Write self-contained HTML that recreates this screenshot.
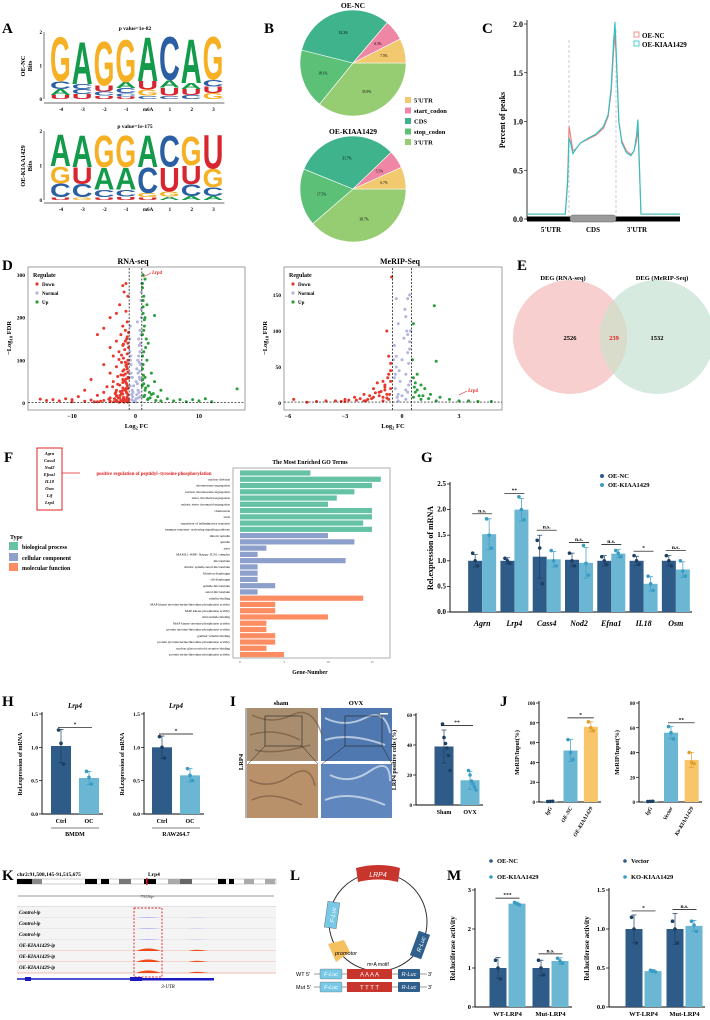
<!DOCTYPE html>
<html><head><meta charset="utf-8"><style>
html,body{margin:0;padding:0;background:#fff}
svg{display:block;font-family:"Liberation Serif",serif}
.b{font-weight:bold}
</style></head><body>
<svg id="fig" xmlns="http://www.w3.org/2000/svg" width="710" height="1020" viewBox="0 0 710 1020">
<rect width="710" height="1020" fill="#fff"/>
<g class="b" font-size="15" fill="#000">
<text x="2" y="33">A</text>
<text x="264" y="33">B</text>
<text x="482" y="33">C</text>
<text x="2" y="270">D</text>
<text x="517" y="270">E</text>
<text x="4" y="462">F</text>
<text x="421" y="462">G</text>
<text x="2" y="706">H</text>
<text x="230" y="706">I</text>
<text x="500" y="706">J</text>
<text x="2" y="880">K</text>
<text x="290" y="880">L</text>
<text x="447" y="880">M</text>
</g>
<g font-size="5.5" class="b">
<text x="135" y="30" text-anchor="middle">p value=1e-82</text>
<text x="135" y="128" text-anchor="middle">p value=1e-175</text>
<text transform="translate(25,66) rotate(-90)" text-anchor="middle" font-size="6.5">OE-NC</text>
<text transform="translate(32,66) rotate(-90)" text-anchor="middle" font-size="6.5">Bits</text>
<text transform="translate(25,166) rotate(-90)" text-anchor="middle" font-size="6.5">OE-KIAA1429</text>
<text transform="translate(32,166) rotate(-90)" text-anchor="middle" font-size="6.5">Bits</text>
</g>
<g id="logoNC"></g>
<g id="logoKI"></g>
<g class="b">
<text x="353" y="8" text-anchor="middle" font-size="7.5">OE-NC</text>
<text x="353" y="134" text-anchor="middle" font-size="7.5">OE-KIAA1429</text>
</g>
<g id="pieNC"></g>
<g id="pieKI"></g>
<g id="pieLegend" font-size="6.5" class="b"></g>
<g id="panelC" class="b" font-size="8">
<text transform="translate(505,120) rotate(-90)" text-anchor="middle" font-size="8">Percent of peaks</text>
</g>
<g class="b">
<text x="133" y="264" text-anchor="middle" font-size="8">RNA-seq</text>
<text x="400" y="264" text-anchor="middle" font-size="8">MeRIP-Seq</text>
</g>
<g id="volRNA"></g>
<g id="volMe"></g>
<g>
<circle cx="570" cy="337" r="57" fill="#f7cfcf"/>
<circle cx="657" cy="337" r="57" fill="#cfe6da" fill-opacity="0.85"/>
<path d="M613.5,300 A57,57 0 0 1 613.5,374 A57,57 0 0 1 613.5,300Z" fill="#d9dccb"/>
<g class="b" font-size="6.5" text-anchor="middle">
<text x="563" y="280">DEG (RNA-seq)</text>
<text x="662" y="280">DEG (MeRIP-Seq)</text>
<text x="570" y="340">2526</text>
<text x="614" y="340" fill="#e02020">239</text>
<text x="657" y="340">1532</text>
</g></g>
<g>
<rect x="37" y="448" width="25" height="62" fill="none" stroke="#e02020" stroke-width="1"/>
<g font-size="4.5" font-style="italic" class="b" text-anchor="middle">
<text x="49.5" y="455">Agrn</text><text x="49.5" y="462">Cass4</text><text x="49.5" y="469">Nod2</text><text x="49.5" y="476">Efna1</text><text x="49.5" y="483">IL18</text><text x="49.5" y="490">Osm</text><text x="49.5" y="497">Lif</text><text x="49.5" y="504">Lrp4</text>
</g>
<line x1="62" y1="473" x2="80" y2="473" stroke="#e02020" stroke-width="0.8"/>
<text x="154" y="475" text-anchor="middle" font-size="4.8" fill="#e02020" class="b">positive regulation of peptidyl−tyrosine phosphorylation</text>
<text x="310" y="464" text-anchor="middle" font-size="5.8" class="b">The Most Enriched GO Terms</text>
<text x="310" y="674" text-anchor="middle" font-size="5.8" class="b">Gene-Number</text>
<text x="10" y="539" font-size="6" class="b">Type</text>
<g font-size="6" class="b">
<rect x="9" y="542" width="9" height="8" fill="#66c2a5"/><text x="22" y="549">biological process</text>
<rect x="9" y="553" width="9" height="8" fill="#8da0cb"/><text x="22" y="560">cellular component</text>
<rect x="9" y="563" width="9" height="8" fill="#fc8d62"/><text x="22" y="570">molecular function</text>
</g>
</g>
<g id="goChart"></g>
<g id="chartG"></g>
<g id="chartH1"></g>
<g id="chartH2"></g>
<g>
<text x="281" y="705" text-anchor="middle" font-size="6.5" class="b">sham</text>
<text x="356" y="705" text-anchor="middle" font-size="6.5" class="b">OVX</text>
<text transform="translate(243,762) rotate(-90)" text-anchor="middle" font-size="6.5" class="b">LRP4</text>
<line x1="246" y1="708" x2="246" y2="818" stroke="#000" stroke-width="0.6"/>
<rect x="247" y="708" width="71" height="53" fill="#a88d6e"/>
<rect x="247" y="764" width="71" height="54" fill="#b8906a"/>
<rect x="321" y="708" width="71" height="53" fill="#4f78b0"/>
<rect x="321" y="764" width="71" height="54" fill="#5f86bd"/>
<path d="M252,715 q20,10 40,0 t30,20 M250,735 q25,-8 50,5 M255,750 q20,5 55,-5 M250,780 q20,10 40,-4 t25,10 M252,800 q20,-10 50,5" stroke="#6e5238" stroke-width="1.5" fill="none" opacity="0.6"/>
<path d="M325,718 q20,10 40,0 t25,15 M325,740 q25,-8 60,5 M330,775 q20,10 40,-4 t20,10 M325,800 q25,-10 60,5" stroke="#dfe8f4" stroke-width="2" fill="none" opacity="0.7"/>
<rect x="265" y="716" width="37" height="30" fill="none" stroke="#222" stroke-width="0.6"/>
<rect x="345" y="716" width="37" height="30" fill="none" stroke="#222" stroke-width="0.6"/>
<path d="M265,746 L248,764 M302,746 L318,764 M345,746 L322,764 M382,746 L392,764" stroke="#222" stroke-width="0.5"/>
<rect x="380" y="713" width="8" height="1.5" fill="#fff"/>
</g>
<g id="chartI"></g>
<g id="chartJ1"></g>
<g id="chartJ2"></g>
<g id="panelK"></g>
<g id="panelL"></g>
<g id="chartM1"></g>
<g id="chartM2"></g>
</svg>
<script>
const logoPositions = ['-4','-3','-2','-1','m6A','1','2','3'];
const logoNCLetters = [['U','A','C','G'],['U','C','C','A'],['U','C','U','G'],['U','C','C','A','G'],['C','G','U','A'],['C','U','A','C'],['C','U','A','A'],['G','U','C','G']];
const logoNCBits = [[0.12,0.18,0.24,1.36],[0.15,0.15,0.15,1.3],[0.1,0.12,0.18,1.36],[0.08,0.1,0.15,0.18,1.3],[0.1,0.18,0.26,1.36],[0.1,0.24,0.22,1.34],[0.12,0.18,0.18,1.36],[0.18,0.2,0.2,1.32]];
const logoKILetters = [['U','C','G','A'],['G','C','U','A'],['U','C','A','G'],['U','C','A','G'],['U','G','C','A'],['A','G','U','C'],['A','C','U','G'],['A','C','G','U']];
const logoKIBits = [[0.08,0.4,0.5,0.95],[0.08,0.38,0.5,0.95],[0.08,0.22,0.65,0.95],[0.1,0.2,0.65,0.95],[0.08,0.12,0.75,0.95],[0.1,0.15,0.72,0.92],[0.12,0.35,0.55,0.85],[0.12,0.25,0.55,1.0]];

const pieCats = ["3'UTR","stop_codon","CDS","start_codon","5'UTR"];
const pieNCvals = [35.9,18.1,32.3,6.3,7.5];
const pieKIvals = [38.7,17.5,31.7,5.5,6.7];
const legendCats = ["5'UTR","start_codon","CDS","stop_codon","3'UTR"];

const cPos = [0,25,26.5,27.5,28.5,30,32,35,40,45,50,53,55,56.5,57.5,58.5,60,62,65,68,70,71.5,72.5,73.5,74.5,76,100];
const cNC  = [0.05,0.05,0.4,0.95,0.85,0.7,0.72,0.78,0.82,0.86,0.93,1.05,1.3,1.7,1.9,1.6,1.0,0.8,0.7,0.66,0.7,0.8,0.92,0.5,0.05,0.05,0.05];
const cKI  = [0.05,0.05,0.35,0.83,0.78,0.67,0.72,0.78,0.83,0.87,0.95,1.07,1.35,1.8,2.02,1.65,1.0,0.78,0.68,0.65,0.7,0.85,1.02,0.55,0.05,0.05,0.05];
const cTicks = [0,0.5,1.0,1.5,2.0];

const rnaDownX = [-1.5,-2,-1.8,-1.2,-2.5,-3,-1.5,-4,-1.3,-2,-5,-1.6,-6,-2.3,-1.4,-3,-1.2,-2,-4,-1.7,-2.6,-1.3,-3.5,-1.9,-1.2,-2.2,-5,-1.5,-3,-1.3,-2,-4,-1.6,-2.8,-1.2,-7,-2,-3.5,-1.5,-2.5,-1.3,-4.5,-2,-8,-3,-1.5,-5,-2.2,-1.2,-6,-3,-9,-4,-1.8,-11,-13,-15,-10,-7,-5,-3,-2,-12,-14,-8,-6,-4,-1.5,-2.5,-10,-1.4,-1.9,-2.4,-1.1,-1.6,-2.1,-3.2,-1.3,-1.7,-2.7,-1.2,-1.5,
 -1.1,-1.3,-1.6,-1.9,-2.2,-2.6,-1.2,-1.4,-1.8,-2.3,-1.1,-1.5,-2.0,-2.8,-3.6,-1.2,-1.7,-2.4,-3.1,-1.4,-2.0,-2.9,-1.3,-1.9,-2.5,-3.3,-4.2,-1.1,-1.6,-2.2,-3.0,-4.0,-5.5,-1.3,-2.1,-3.4,-6.5,-1.2,-1.8,-2.6];
const rnaDownY = [280,275,260,250,230,210,215,200,190,180,175,170,160,160,150,145,140,135,130,125,120,115,110,105,100,95,90,88,85,80,75,70,68,62,60,55,55,50,48,42,40,38,35,30,30,28,25,22,20,18,16,15,12,12,10,8,9,8,7,6,5,8,5,6,4,3,3,5,3,3,45,65,18,130,95,28,22,10,52,12,72,34,
 165,155,145,138,112,102,92,85,78,66,58,56,48,44,38,34,31,27,25,24,21,17,14,13,11,10,9,7,7,6,6,5,4,4,4,3,3,2,2,2];
const rnaNormX = [-0.8,-0.5,0.3,0.5,0.7,0.2,-0.3,0.6,0.4,-0.6,0.1,-0.2,0.8,0.5,0.9,-0.9,0,0.3,-0.4,0.7,-0.7,0.85,0.6,-0.85,0.75,-0.6,0.45,-0.3,0.2,0.9,
 -0.9,-0.7,-0.5,0.1,0.4,0.6,0.8,-0.8,0.7,0.9,-0.95,0.55,-0.45,0.35,0.65,0.85,-0.75,0.95];
const rnaNormY = [100,60,190,150,120,80,40,60,30,20,10,5,90,110,200,150,3,45,25,170,70,240,135,40,15,8,12,3,20,260,
 120,90,30,50,70,95,140,180,55,220,60,25,15,100,75,160,110,280];
const rnaUpX = [1.2,1.5,1.1,1.3,1.8,1.2,1.5,3,1.4,1.1,2,1.3,1.8,1.2,2.5,1.5,3,1.3,2,4,1.5,2.5,3.5,5,1.3,7,9,11,10,12,16,2,6,8,4,1.1,1.6,1.2,2.2,
 1.1,1.2,1.4,1.3,1.7,1.1,1.25,1.6,2.3,1.15,1.45,2.8,1.05,1.9,3.2];
const rnaUpY = [300,290,270,250,230,210,200,205,180,160,140,120,100,90,70,60,50,45,40,30,30,20,15,10,15,8,8,10,5,3,33,10,5,3,5,80,130,240,25,
 280,225,195,170,150,110,65,35,12,55,18,22,40,8,6];
const meDownX = [-0.8,-0.6,-0.7,-1,-0.9,-1.5,-0.6,-1.2,-2,-0.8,-2.5,-1.5,-3,-4,-0.7,-3.5,-2,-1,-5.7,-4.5,-1.8,-0.55,-1.2,-0.6,-2.2,-3,-5,-0.9,-1.3,-0.7,
 -0.6,-0.75,-0.9,-1.1,-1.4,-1.7,-2.4,-2.8,-0.65,-1.0,-1.6,-3.2,-0.8,-1.9];
const meDownY = [100,55,40,30,25,20,20,15,12,12,8,8,5,3,5,3,3,3,5,2,5,175,10,30,6,2,1,18,28,65,
 45,35,22,16,14,10,4,4,12,8,6,2,7,3];
const meNormX = [-0.3,0.3,0.2,-0.2,0.1,0.4,-0.4,0.3,0,-0.3,0.2,-0.1,0.35,-0.35,0,0.2,-0.2,0.45,-0.45,0.4,0.25,-0.4,0.3,-0.25,0.15,
 -0.15,0.35,-0.3,0.4,0.3,-0.35,0.45,0.2,-0.2];
const meNormY = [145,145,120,110,90,85,80,70,60,50,40,30,25,20,10,5,3,100,60,150,100,35,15,8,130,
 45,55,65,75,95,40,30,18,12];
const meUpX = [0.6,1.7,1.8,0.8,0.6,1,1.2,0.7,1.5,2,0.6,2.5,3,3.5,4,4.7,1,1.8,0.9,0.55,0.65,0.7,0.8,1.1,1.4];
const meUpY = [110,135,58,40,35,25,20,15,12,8,8,5,3,3,2,2,5,3,10,60,22,28,18,10,6];

const goTerms = ["positive regulation of peptidyl−tyrosine phosphorylation","nuclear division","chromosome segregation","nuclear chromosome segregation","sister chromatid segregation","mitotic sister chromatid segregation","chemotaxis","taxis","regulation of inflammatory response","immune response−activating signaling pathway","mitotic spindle","spindle","aster","MAML1−RBP−Jkappa−ICN1 complex","microtubule","mitotic spindle astral microtubule","filtration diaphragm","slit diaphragm","spindle microtubule","astral microtubule","tubulin binding","MAP kinase tyrosine/serine/threonine phosphatase activity","MAP kinase phosphatase activity","microtubule binding","MAP kinase tyrosine phosphatase activity","protein tyrosine/threonine phosphatase activity","gamma−tubulin binding","protein tyrosine/serine/threonine phosphatase activity","nuclear glucocorticoid receptor binding","protein serine/threonine phosphatase activity"];
const goCounts = [8,16,15,13,11,10,15,15,14,15,10,13,3,2,12,2,2,2,4,2,14,4,4,10,3,3,4,4,3,5];
const goTypes = ['BP','BP','BP','BP','BP','BP','BP','BP','BP','BP','CC','CC','CC','CC','CC','CC','CC','CC','CC','CC','MF','MF','MF','MF','MF','MF','MF','MF','MF','MF'];
const goTicks = [0,5,10,15];

const gGenes = ['Agrn','Lrp4','Cass4','Nod2','Efna1','IL18','Osm'];
const gNC = [1.0,1.0,1.08,1.02,1.0,1.0,1.0];
const gNCsd = [0.12,0.06,0.42,0.13,0.1,0.09,0.1];
const gNCreps = [[1.15,1.0,0.9],[1.05,1.0,0.95],[1.4,1.25,0.55],[1.15,1.0,0.9],[1.08,1.0,0.93],[1.1,1.0,0.93],[1.1,1.0,0.9]];
const gKI = [1.52,2.0,1.03,0.96,1.14,0.55,0.83];
const gKIsd = [0.3,0.22,0.15,0.3,0.08,0.14,0.15];
const gKIreps = [[1.82,1.5,1.25],[2.25,2.0,1.8],[1.2,1.0,0.9],[1.3,0.95,0.72],[1.2,1.15,1.08],[0.7,0.55,0.42],[1.0,0.8,0.7]];
const gSig = ['n.s.','**','n.s.','n.s.','n.s.','*','n.s.'];
const gTicks = [0,0.5,1.0,1.5,2.0,2.5];

const hCats = ['Ctrl','OC'];
const h1Vals = [1.02,0.54]; const h1Sd=[0.25,0.1]; const h1Reps=[[1.26,1.06,0.75],[0.64,0.55,0.45]];
const h2Vals = [1.0,0.58]; const h2Sd=[0.17,0.1]; const h2Reps=[[1.16,1.0,0.84],[0.68,0.58,0.5]];
const hTicks = [0,0.5,1.0,1.5];
const iCats = ['Sham','OVX']; const iVals=[39,16.5]; const iSd=[11,6]; const iReps=[[54,45,41,38,33,23],[23,20,16,14,12,10]];
const iTicks=[0,20,40,60];
const j1Cats=['IgG','OE-NC','OE-KIAA1429']; const j1Vals=[0.6,52,76]; const j1Sd=[0.3,11,5]; const j1Reps=[[0.5,0.6,0.7],[63,50,43],[81,75,72]];
const j1Ticks=[0,20,40,60,80,100];
const j2Cats=['IgG','Vector','Ko-KIAA1429']; const j2Vals=[0.5,56,34]; const j2Sd=[0.3,5,6]; const j2Reps=[[0.4,0.5,0.6],[61,56,51],[40,32,31]];
const j2Ticks=[0,20,40,60,80];
const mCats=['WT-LRP4','Mut-LRP4'];
const m1A=[1.0,1.0]; const m1Asd=[0.27,0.2]; const m1Areps=[[1.2,1.0,0.72],[1.2,1.0,0.82]];
const m1B=[2.65,1.18]; const m1Bsd=[0.04,0.08]; const m1Breps=[[2.68,2.65,2.62],[1.25,1.18,1.12]];
const m1Sig=['***','n.s.']; const m1Ticks=[0,1,2,3];
const m2A=[1.0,1.0]; const m2Asd=[0.18,0.2]; const m2Areps=[[1.15,1.0,0.82],[1.1,1.0,0.82]];
const m2B=[0.46,1.04]; const m2Bsd=[0.02,0.07]; const m2Breps=[[0.47,0.46,0.45],[1.1,1.05,0.97]];
const m2Sig=['*','n.s.']; const m2Ticks=[0,0.5,1.0,1.5];

const NS='http://www.w3.org/2000/svg';
function mk(tag, attrs, parent){const e=document.createElementNS(NS,tag);for(const k in attrs)e.setAttribute(k,attrs[k]);parent.appendChild(e);return e;}
function tx(str, attrs, parent){const e=mk('text',attrs,parent);e.textContent=str;return e;}
const G=id=>document.getElementById(id);
const DARK='#2e5b88', LIGHT='#6bb7d3', ORANGE='#f8c56a';

const letterColor={A:'#139a4a',C:'#2b5fa3',G:'#f5b024',U:'#d7262f'};
const letterAdv={A:72,C:72,G:78,U:72};
function drawLogo(g, letters, bits, x0, step, y0, pxPerBit, axisY){
  mk('line',{x1:x0-6,y1:y0-2*pxPerBit,x2:x0-6,y2:y0,stroke:'#555','stroke-width':0.8},g);
  ['0','1','2'].forEach((t,i)=>{tx(t,{x:x0-8,y:y0-i*pxPerBit+2,'font-size':5,'text-anchor':'end','font-weight':'bold'},g);});
  mk('line',{x1:x0-6,y1:axisY,x2:x0+step*8,y2:axisY,stroke:'#888','stroke-width':1.2},g);
  letters.forEach((col,i)=>{
    let yb=y0;
    const cx=x0+step*i;
    col.forEach((L,j)=>{
      const h=bits[i][j]*pxPerBit;
      const t=tx(L,{x:0,y:0,'font-size':100,'font-family':'Liberation Sans, sans-serif','font-weight':'bold',fill:letterColor[L],transform:`translate(${cx},${yb}) scale(${(step-1)/letterAdv[L]},${h/72})`},g);
      
      
      yb-=h;
    });
    tx(logoPositions[i],{x:cx+step/2,y:axisY+8,'font-size':5,'text-anchor':'middle','font-weight':'bold'},g);
  });
}
drawLogo(G('logoNC'),logoNCLetters,logoNCBits,50,21.8,99,33.5,103);
drawLogo(G('logoKI'),logoKILetters,logoKIBits,50,21.8,200,34.5,203);

const pieColors={"5'UTR":'#f2c96e',"start_codon":'#ef86a6',"CDS":'#3fb38b',"stop_codon":'#5cc177',"3'UTR":'#96cc72'};
function drawPie(g, vals, cx, cy, r){
  const tot=vals.reduce((a,b)=>a+b,0); let a=0;
  vals.forEach((v,i)=>{
    const a1=a+v/tot*2*Math.PI;
    const p=`M${cx},${cy} L${cx+r*Math.cos(a)},${cy+r*Math.sin(a)} A${r},${r} 0 ${a1-a>Math.PI?1:0} 1 ${cx+r*Math.cos(a1)},${cy+r*Math.sin(a1)} Z`;
    const s=mk('path',{d:p,fill:pieColors[pieCats[i]],stroke:'#fff','stroke-width':0.6},g);
    
    
    const m=(a+a1)/2, lr=r*0.6;
    tx(v.toFixed(1)+'%',{x:cx+lr*Math.cos(m),y:cy+lr*Math.sin(m)+1.5,'font-size':3.6,'text-anchor':'middle'},g);
    a=a1;
  });
}
drawPie(G('pieNC'),pieNCvals,353,63,53);
drawPie(G('pieKI'),pieKIvals,353,189,53);
legendCats.forEach((c,i)=>{
  const y=97+i*10.5;
  const r=mk('rect',{x:405,y:y,width:6,height:6,fill:pieColors[c]},G('pieLegend'));
  
  
  tx(c,{x:414,y:y+5.5},G('pieLegend'));
});

(function(){
  const g=G('panelC');
  const X=p=>527+p/100*153, Y=v=>219-v*97.5;
  mk('line',{x1:527,y1:20,x2:527,y2:220,stroke:'#000','stroke-width':0.8},g);
  cTicks.forEach(t=>{tx(t.toFixed(1),{x:523,y:Y(t)+3,'text-anchor':'end','font-size':8},g);mk('line',{x1:524,y1:Y(t),x2:527,y2:Y(t),stroke:'#000','stroke-width':0.6},g);});
  mk('rect',{x:527,y:216.5,width:153,height:5,fill:'#000'},g);
  mk('line',{x1:569,y1:40,x2:569,y2:216,stroke:'#aaa','stroke-dasharray':'3,2','stroke-width':0.6},g);
  mk('line',{x1:616,y1:30,x2:616,y2:216,stroke:'#aaa','stroke-dasharray':'3,2','stroke-width':0.6},g);
  const ncL=mk('polyline',{points:cPos.map((p,i)=>X(p)+','+Y(cNC[i])).join(' '),fill:'none',stroke:'#f07b72','stroke-width':1.1},g);
  
  
  const kiL=mk('polyline',{points:cPos.map((p,i)=>X(p)+','+Y(cKI[i])).join(' '),fill:'none',stroke:'#27c3c6','stroke-width':1.1},g);
  
  
  mk('rect',{x:570,y:215,width:46,height:7,rx:3,fill:'#9a9a9a',stroke:'#666','stroke-width':0.5},g);
  tx("5'UTR",{x:551,y:232,'text-anchor':'middle','font-size':7},g);
  tx('CDS',{x:593,y:232,'text-anchor':'middle','font-size':7},g);
  tx("3'UTR",{x:637,y:232,'text-anchor':'middle','font-size':7},g);
  mk('rect',{x:634,y:32,width:5,height:5,fill:'none',stroke:'#f07b72','stroke-width':0.8},g);
  tx('OE-NC',{x:642,y:38,'font-size':7},g);
  mk('rect',{x:634,y:41,width:5,height:5,fill:'none',stroke:'#27c3c6','stroke-width':0.8},g);
  tx('OE-KIAA1429',{x:642,y:47,'font-size':7},g);
})();

function volcano(g, o){
  const X=v=>o.zx+v*o.sx, Y=v=>o.zy-v*o.sy;
  mk('rect',{x:o.x0,y:267,width:o.x1-o.x0,height:143,fill:'none',stroke:'#888','stroke-width':0.8},g);
  const sets=[[o.nx,o.ny,'#b3b3e0'],[o.dx,o.dy,'#e8382d'],[o.ux,o.uy,'#2a9d3c']];
  sets.forEach(s=>s[0].forEach((v,i)=>{
    const c=mk('circle',{cx:X(v),cy:Y(s[1][i]),r:1.5,fill:s[2]},g);
    
    
  }));
  mk('line',{x1:X(-o.cut),y1:268,x2:X(-o.cut),y2:410,stroke:'#000','stroke-dasharray':'2,1.5','stroke-width':0.7},g);
  mk('line',{x1:X(o.cut),y1:268,x2:X(o.cut),y2:410,stroke:'#000','stroke-dasharray':'2,1.5','stroke-width':0.7},g);
  mk('line',{x1:o.x0,y1:Y(1.3),x2:o.x1,y2:Y(1.3),stroke:'#000','stroke-dasharray':'2,1.5','stroke-width':0.7},g);
  o.xt.forEach(t=>{tx(String(t).replace('-','−'),{x:X(t),y:418,'font-size':6,'text-anchor':'middle','font-weight':'bold'},g);});
  o.yt.forEach(t=>{tx(String(t),{x:o.x0-3,y:Y(t)+2,'font-size':5.5,'text-anchor':'end','font-weight':'bold'},g);});
  const xl=tx('',{x:(o.x0+o.x1)/2,y:428,'font-size':6.5,'text-anchor':'middle','font-weight':'bold'},g);
  xl.innerHTML='Log<tspan font-size="4.5" dy="1.5">2</tspan><tspan dy="-1.5"> FC</tspan>';
  const yl=tx('',{transform:`translate(${o.x0-17},338) rotate(-90)`,'font-size':6.5,'text-anchor':'middle','font-weight':'bold'},g);
  yl.innerHTML='−Log<tspan font-size="4.5" dy="1.5">10</tspan><tspan dy="-1.5"> FDR</tspan>';
  tx('Regulate',{x:o.x0+5,y:277,'font-size':6,'font-weight':'bold'},g);
  [['Down','#e8382d'],['Normal','#b3b3e0'],['Up','#2a9d3c']].forEach((d,i)=>{
    mk('circle',{cx:o.x0+9,cy:284+i*9,r:1.6,fill:d[1]},g);
    tx(d[0],{x:o.x0+14,y:286+i*9,'font-size':5,'font-weight':'bold'},g);
  });
  tx('Lrp4',{x:o.lx,y:o.ly,'font-size':5,fill:'#e02020','font-style':'italic','font-weight':'bold'},g);
  mk('line',{x1:o.lx-1,y1:o.ly-1,x2:o.lx-9,y2:o.ly+3,stroke:'#e02020','stroke-width':0.6},g);
}
volcano(G('volRNA'),{x0:28,x1:245,zx:135.5,sx:6.35,zy:403,sy:0.427,cut:1,dx:rnaDownX,dy:rnaDownY,nx:rnaNormX,ny:rnaNormY,ux:rnaUpX,uy:rnaUpY,xt:[-10,0,10],yt:[0,100,200,300],lx:152,ly:274});
volcano(G('volMe'),{x0:284,x1:502,zx:402,sx:19,zy:403,sy:0.72,cut:0.5,dx:meDownX,dy:meDownY,nx:meNormX,ny:meNormY,ux:meUpX,uy:meUpY,xt:[-6,-3,0,3],yt:[0,50,100,150],lx:468,ly:392});

(function(){
  const g=G('goChart'); const col={BP:'#66c2a5',CC:'#8da0cb',MF:'#fc8d62'};
  const X=v=>240+v*8.8, Y=i=>473+i*6.26;
  mk('rect',{x:233,y:468,width:157,height:190,fill:'none',stroke:'#999','stroke-width':0.8},g);
  goCounts.forEach((v,i)=>{
    const b=mk('rect',{x:X(0),y:Y(i)-2.6,width:X(v)-X(0),height:5.2,fill:col[goTypes[i]]},g);
    
    
    if(i>0) tx(goTerms[i],{x:230,y:Y(i)+1.2,'font-size':3.4,'text-anchor':'end'},g);
  });
  goTicks.forEach(t=>{tx(String(t),{x:X(t),y:663,'font-size':3.5,'text-anchor':'middle',fill:'#666'},g);});
})();

function yAxis(g, x, y0, yTop, max, ticks, fmt, fs){
  mk('line',{x1:x,y1:yTop-2,x2:x,y2:y0,stroke:'#000','stroke-width':0.9},g);
  ticks.forEach(t=>{const y=y0-t/max*(y0-yTop);mk('line',{x1:x-3,y1:y,x2:x,y2:y,stroke:'#000','stroke-width':0.7},g);tx(fmt(t),{x:x-4,y:y+2,'font-size':fs,'text-anchor':'end','font-weight':'bold'},g);});
}
function barWithErr(g, cx, w, mean, sd, reps, Y, color, dotColor, name){
  const b=mk('rect',{x:cx-w/2,y:Y(mean),width:w,height:Y(0)-Y(mean),fill:color},g);
  
  
  mk('line',{x1:cx,y1:Y(mean+sd),x2:cx,y2:Y(Math.max(0,mean-sd)),stroke:dotColor,'stroke-width':0.7},g);
  mk('line',{x1:cx-2.5,y1:Y(mean+sd),x2:cx+2.5,y2:Y(mean+sd),stroke:dotColor,'stroke-width':0.7},g);
  mk('line',{x1:cx-2.5,y1:Y(Math.max(0,mean-sd)),x2:cx+2.5,y2:Y(Math.max(0,mean-sd)),stroke:dotColor,'stroke-width':0.7},g);
  reps.forEach((r,k)=>{const d=mk('circle',{cx:cx+(k-1)*2.5*(reps.length>3?0.6:1),cy:Y(r),r:1.8,fill:dotColor},g);});
}
function sig(g, x1, x2, y, s){
  mk('line',{x1:x1,y1:y,x2:x2,y2:y,stroke:'#000','stroke-width':0.7},g);
  tx(s,{x:(x1+x2)/2,y:y-1.5,'font-size':5.5,'text-anchor':'middle','font-weight':'bold'},g);
}
function simpleBars(g,o){
  const n=o.cats.length, step=(o.x1-o.x0)/n, Y=v=>o.y0-v/o.max*(o.y0-o.yTop);
  yAxis(g,o.ax,o.y0,o.yTop,o.max,o.ticks,o.fmt,o.fs||5.5);
  mk('line',{x1:o.ax,y1:o.y0,x2:o.x1,y2:o.y0,stroke:'#000','stroke-width':0.9},g);
  o.cats.forEach((c,i)=>{
    const cx=o.x0+step*(i+0.5);
    barWithErr(g,cx,o.bw,o.vals[i],o.sd[i],o.reps[i],Y,o.colors[i],o.dots[i],'bar-'+c.toLowerCase());
    if(o.rot) tx(c,{transform:`translate(${cx+2},${o.y0+6}) rotate(-60)`,'font-size':5.5,'text-anchor':'end','font-weight':'bold','font-style':'italic'},g);
    else tx(c,{x:cx,y:o.y0+9,'font-size':6,'text-anchor':'middle','font-weight':'bold'},g);
  });
  if(o.sig){const a=o.x0+step*(o.sig[0]+0.5),b=o.x0+step*(o.sig[1]+0.5);sig(g,a-3,b+3,Y(o.sigY),o.sig[2]);}
  if(o.ylab) tx(o.ylab,{transform:`translate(${o.ax-20},${(o.y0+o.yTop)/2}) rotate(-90)`,'font-size':6,'text-anchor':'middle','font-weight':'bold'},g);
  if(o.title) tx(o.title,{x:(o.x0+o.x1)/2,y:o.yTop-6,'font-size':7,'text-anchor':'middle','font-weight':'bold','font-style':'italic'},g);
  if(o.group){mk('line',{x1:o.x0+4,y1:o.y0+14,x2:o.x1-4,y2:o.y0+14,stroke:'#000','stroke-width':0.6},g);tx(o.group,{x:(o.x0+o.x1)/2,y:o.y0+22,'font-size':6,'text-anchor':'middle','font-weight':'bold'},g);}
}
const f1=t=>t.toFixed(1), f0=t=>String(t);

(function(){
  const g=G('chartG'); const x0=466,x1=692,step=(x1-x0)/gGenes.length,y0=612,yTop=484,max=2.5;
  const Y=v=>y0-v/max*(y0-yTop);
  yAxis(g,450,y0,yTop,max,gTicks,f1,7);
  mk('line',{x1:450,y1:y0,x2:x1,y2:y0,stroke:'#000','stroke-width':0.9},g);
  gGenes.forEach((gn,i)=>{
    const c=x0+step*(i+0.5);
    barWithErr(g,c-7,14,gNC[i],gNCsd[i],gNCreps[i],Y,DARK,'#1d3f63','bar-oe-nc');
    barWithErr(g,c+7,14,gKI[i],gKIsd[i],gKIreps[i],Y,LIGHT,'#3a9cc4','bar-oe-kiaa1429');
    const top=Math.max(gNC[i]+gNCsd[i],gKI[i]+gKIsd[i]);
    sig(g,c-10,c+10,Y(top)-5,gSig[i]);
    tx(gn,{x:c,y:626,'font-size':8,'text-anchor':'middle','font-weight':'bold','font-style':'italic'},g);
  });
  tx('Rel.expression of mRNA',{transform:'translate(433,548) rotate(-90)','font-size':8,'text-anchor':'middle','font-weight':'bold'},g);
  mk('circle',{cx:602,cy:476,r:2,fill:DARK},g); tx('OE-NC',{x:608,y:478,'font-size':6.5,'font-weight':'bold'},g);
  mk('circle',{cx:602,cy:485,r:2,fill:'#3a9cc4'},g); tx('OE-KIAA1429',{x:608,y:487,'font-size':6.5,'font-weight':'bold'},g);
})();

simpleBars(G('chartH1'),{cats:hCats,vals:h1Vals,sd:h1Sd,reps:h1Reps,x0:47,x1:103,ax:42,y0:814,yTop:714,max:1.5,ticks:hTicks,fmt:f1,bw:20,colors:[DARK,LIGHT],dots:['#1d3f63','#3a9cc4'],sig:[0,1,'*'],sigY:1.3,ylab:'Rel.expression of mRNA',title:'Lrp4',group:'BMDM'});
simpleBars(G('chartH2'),{cats:hCats,vals:h2Vals,sd:h2Sd,reps:h2Reps,x0:148,x1:204,ax:144,y0:814,yTop:714,max:1.5,ticks:hTicks,fmt:f1,bw:20,colors:[DARK,LIGHT],dots:['#1d3f63','#3a9cc4'],sig:[0,1,'*'],sigY:1.2,ylab:'Rel.expression of mRNA',title:'Lrp4',group:'RAW264.7'});
simpleBars(G('chartI'),{cats:iCats,vals:iVals,sd:iSd,reps:iReps,x0:431,x1:483,ax:416,y0:805,yTop:715,max:60,ticks:iTicks,fmt:f0,fs:5,bw:19,colors:[DARK,LIGHT],dots:['#1d3f63','#3a9cc4'],sig:[0,1,'**'],sigY:53,ylab:'LRP4 positive cells (%)'});
simpleBars(G('chartJ1'),{cats:j1Cats,vals:j1Vals,sd:j1Sd,reps:j1Reps,x0:540,x1:601,ax:539,y0:802,yTop:703,max:100,ticks:j1Ticks,fmt:f0,fs:5,bw:14,colors:[LIGHT,LIGHT,ORANGE],dots:['#1d3f63','#3a9cc4','#e0a030'],sig:[1,2,'*'],sigY:85,ylab:'MeRIP/Input(%)',rot:true});
simpleBars(G('chartJ2'),{cats:j2Cats,vals:j2Vals,sd:j2Sd,reps:j2Reps,x0:640,x1:702,ax:639,y0:802,yTop:703,max:80,ticks:j2Ticks,fmt:f0,fs:5,bw:14,colors:[LIGHT,LIGHT,ORANGE],dots:['#1d3f63','#3a9cc4','#e0a030'],sig:[1,2,'**'],sigY:64,ylab:'MeRIP/Input(%)',rot:true});

function groupedM(g, o){
  const n=mCats.length, step=(o.x1-o.x0)/n, Y=v=>o.y0-v/o.max*(o.y0-o.yTop);
  yAxis(g,o.ax,o.y0,o.yTop,o.max,o.ticks,o.fmt,6.5);
  mk('line',{x1:o.ax,y1:o.y0,x2:o.x1,y2:o.y0,stroke:'#000','stroke-width':0.9},g);
  mCats.forEach((c,i)=>{
    const cx=o.x0+step*(i+0.5);
    barWithErr(g,cx-9.5,17,o.a[i],o.asd[i],o.areps[i],Y,DARK,'#1d3f63','bar-control');
    barWithErr(g,cx+9.5,17,o.b[i],o.bsd[i],o.breps[i],Y,LIGHT,'#3a9cc4','bar-treatment');
    const top=Math.max(o.a[i]+o.asd[i],o.b[i]+o.bsd[i]);
    sig(g,cx-12,cx+12,Y(top)-4,o.sig[i]);
    tx(c,{x:cx,y:o.y0+9,'font-size':6.5,'text-anchor':'middle','font-weight':'bold'},g);
  });
  tx('Rel.luciferase activity',{transform:`translate(${o.ax-20},${(o.y0+o.yTop)/2}) rotate(-90)`,'font-size':7,'text-anchor':'middle','font-weight':'bold'},g);
  mk('circle',{cx:o.ax+16,cy:861,r:1.8,fill:DARK},g); tx(o.l1,{x:o.ax+22,y:863,'font-size':6.5,'font-weight':'bold'},g);
  mk('circle',{cx:o.ax+16,cy:877,r:1.8,fill:'#3a9cc4'},g); tx(o.l2,{x:o.ax+22,y:879,'font-size':6.5,'font-weight':'bold'},g);
}
groupedM(G('chartM1'),{x0:486,x1:572,ax:475,y0:1007,yTop:890,max:3,ticks:m1Ticks,fmt:f0,a:m1A,asd:m1Asd,areps:m1Areps,b:m1B,bsd:m1Bsd,breps:m1Breps,sig:m1Sig,l1:'OE-NC',l2:'OE-KIAA1429'});
groupedM(G('chartM2'),{x0:623,x1:705,ax:609,y0:1007,yTop:890,max:1.5,ticks:m2Ticks,fmt:f1,a:m2A,asd:m2Asd,areps:m2Areps,b:m2B,bsd:m2Bsd,breps:m2Breps,sig:m2Sig,l1:'Vector',l2:'KO-KIAA1429'});

(function(){
  const g=G('panelK');
  tx('chr2:91,508,145-91,515,675',{x:17,y:876,'font-size':5.5,'font-weight':'bold'},g);
  tx('Lrp4',{x:148,y:876,'font-size':5.5,'font-weight':'bold'},g);
  mk('rect',{x:17,y:879,width:259,height:5,fill:'#fff',stroke:'#999','stroke-width':0.5},g);
  [[17,15,'#000'],[32,10,'#888'],[85,12,'#000'],[101,8,'#000'],[119,12,'#777'],[144,12,'#000'],[168,15,'#aaa'],[180,12,'#666'],[218,8,'#000'],[229,5,'#000'],[244,10,'#aaa'],[265,10,'#aaa']].forEach(b=>mk('rect',{x:b[0],y:879,width:b[1],height:5,fill:b[2]},g));
  mk('rect',{x:146,y:878,width:1.5,height:7,fill:'#e02020'},g);
  mk('line',{x1:18,y1:896,x2:274,y2:896,stroke:'#333','stroke-width':0.5},g);
  tx('7311bp',{x:147,y:898,'font-size':4.5,'font-style':'italic','text-anchor':'middle',fill:'#333'},g);
  mk('line',{x1:17,y1:907,x2:276,y2:907,stroke:'#aab','stroke-width':0.8},g);
  const labels=['Control-ip','Control-ip','Control-ip','OE-KIAA1429-ip','OE-KIAA1429-ip','OE-KIAA1429-ip'];
  labels.forEach((l,i)=>{
    const y=912+i*11;
    mk('rect',{x:17,y:y-5,width:259,height:11,fill:'#f4f4f4'},g);
    tx(l,{x:19,y:y+2,'font-size':5,'font-style':'italic','font-weight':'bold'},g);
    const red=i>=3;
    mk('line',{x1:17,y1:y+6,x2:276,y2:y+6,stroke:red?'#f08060':'#c8c8d8','stroke-width':0.6},g);
    mk('path',{d:`M136,${y+6} q12,${red?-5:-2} 25,0 Z M188,${y+6} q8,${red?-2.5:-1} 20,0 Z`,fill:red?'#f04a1a':'#b8b8f0'},g);
  });
  mk('rect',{x:134,y:908,width:28,height:69,fill:'none',stroke:'#e02020','stroke-width':0.9,'stroke-dasharray':'2,1.5'},g);
  mk('line',{x1:17,y1:979,x2:214,y2:979,stroke:'#1a1ac0','stroke-width':1.5},g);
  mk('rect',{x:25,y:977,width:6,height:4,fill:'#1a1ac0'},g);
  mk('rect',{x:130,y:977,width:12,height:4,fill:'#1a1ac0'},g);
  mk('rect',{x:142,y:978,width:72,height:2.5,fill:'#1a1ac0'},g);
  tx('3-UTR',{x:168,y:988,'font-size':5,'font-style':'italic','text-anchor':'middle'},g);
})();

(function(){
  const g=G('panelL');
  mk('circle',{cx:378,cy:922,r:49,fill:'none',stroke:'#333','stroke-width':1},g);
  mk('path',{d:'M356,868 Q378,862 400,868 L398,882 Q378,877 358,882 Z',fill:'#c8352d'},g);
  tx('LRP4',{x:378,y:877,'font-size':7,fill:'#fff','text-anchor':'middle','font-style':'italic','font-family':'Liberation Sans, sans-serif'},g);
  mk('rect',{x:326,y:902,width:12,height:26,fill:'#78c8e6',stroke:'#333','stroke-width':0.3,transform:'rotate(8 332 915)'},g);
  tx('F-Luc',{transform:'translate(335,915) rotate(-82)','font-size':6,fill:'#fff','text-anchor':'middle','font-style':'italic','font-family':'Liberation Sans, sans-serif'},g);
  mk('rect',{x:414,y:932,width:12,height:26,fill:'#2f5f8c',transform:'rotate(20 420 945)'},g);
  tx('R-Luc',{transform:'translate(423,945) rotate(-70)','font-size':6,fill:'#fff','text-anchor':'middle','font-style':'italic','font-family':'Liberation Sans, sans-serif'},g);
  mk('path',{d:'M328,944 L344,940 L350,952 L336,962 Z',fill:'#f5c060'},g);
  tx('promotor',{x:335,y:955,'font-size':5.5,'font-style':'italic','font-family':'Liberation Sans, sans-serif'},g);
  tx('m⁶A motif',{x:378,y:966,'font-size':5,'text-anchor':'middle','font-family':'Liberation Sans, sans-serif'},g);
  [['WT',974,'A A A A'],['Mut',987,'T T T T']].forEach(r=>{
    tx(r[0]+" 5'",{x:296,y:r[1]+2,'font-size':5.5,'font-family':'Liberation Sans, sans-serif'},g);
    mk('line',{x1:314,y1:r[1],x2:427,y2:r[1],stroke:'#333','stroke-width':0.6},g);
    mk('rect',{x:320,y:r[1]-5,width:22,height:10,rx:1,fill:'#78c8e6',stroke:'#555','stroke-width':0.3},g);
    tx('F-Luc',{x:331,y:r[1]+2,'font-size':5.5,fill:'#fff','text-anchor':'middle','font-style':'italic','font-family':'Liberation Sans, sans-serif'},g);
    mk('rect',{x:347,y:r[1]-5,width:45,height:10,fill:'#c8352d'},g);
    tx(r[2],{x:369.5,y:r[1]+2.5,'font-size':6,fill:'#fff','text-anchor':'middle','font-family':'Liberation Sans, sans-serif'},g);
    mk('rect',{x:398,y:r[1]-5,width:22,height:10,rx:1,fill:'#2f5f8c'},g);
    tx('R-Luc',{x:409,y:r[1]+2,'font-size':5.5,fill:'#fff','text-anchor':'middle','font-style':'italic','font-family':'Liberation Sans, sans-serif'},g);
    tx("3'",{x:428,y:r[1]+2,'font-size':5.5,'font-family':'Liberation Sans, sans-serif'},g);
  });
})();
</script>
</body></html>
